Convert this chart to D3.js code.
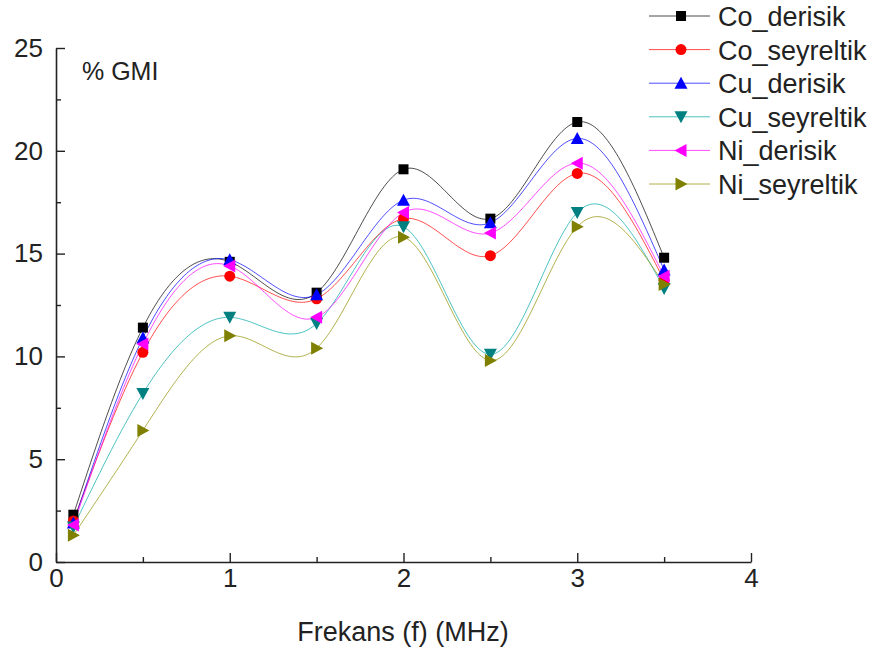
<!DOCTYPE html>
<html><head><meta charset="utf-8">
<script src="https://cdn.jsdelivr.net/npm/d3@7"></script>
<style>body{margin:0;background:#fff}svg{display:block}text{font-family:"Liberation Sans",Arial,sans-serif;fill:#222}</style>
</head><body><svg id="c" width="878" height="654"></svg>
<script>
const freq = [0.1, 0.5, 1, 1.5, 2, 2.5, 3, 3.5];
const seriesNames = ["Co_derisik","Co_seyreltik","Cu_derisik","Cu_seyreltik","Ni_derisik","Ni_seyreltik"];
const coDerisik   = [2.3, 11.4, 14.6, 13.1, 19.1, 16.7, 21.4, 14.8];
const coSeyreltik = [2.0, 10.2, 13.9, 12.8, 16.7, 14.9, 18.9, 13.7];
const cuDerisik   = [1.9, 10.9, 14.7, 13.0, 17.6, 16.5, 20.6, 14.2];
const cuSeyreltik = [1.7,  8.2, 11.9, 11.6, 16.3, 10.1, 17.0, 13.3];
const niDerisik   = [1.8, 10.6, 14.4, 11.9, 17.0, 16.0, 19.4, 13.9];
const niSeyreltik = [1.3,  6.4, 11.0, 10.4, 15.8,  9.8, 16.3, 13.5];
const xTicks = [0,1,2,3,4];
const yTicks = [0,5,10,15,20,25];
const yLabel = "% GMI";
const xLabel = "Frekans (f) (MHz)";

const values = [coDerisik, coSeyreltik, cuDerisik, cuSeyreltik, niDerisik, niSeyreltik];
const lineColors = ["#000000","#ff0000","#0000ff","#00a8a8","#ff00ff","#909000"];
const markColors = ["#000000","#ff0000","#0000ff","#008080","#ff00ff","#808000"];
const shapes = ["square","circle","up","down","left","right"];

const svg = d3.select("#c");
const x = d3.scaleLinear().domain([0,4]).range([56,751]);
const y = d3.scaleLinear().domain([0,25]).range([562,48]);

// natural cubic spline in data space
function spline(xs, ys){
  const n = xs.length, h=[], al=[], l=[1], mu=[0], z=[0], c=new Array(n).fill(0), b=[], d=[];
  for(let i=0;i<n-1;i++) h.push(xs[i+1]-xs[i]);
  for(let i=1;i<n-1;i++) al[i]=3/h[i]*(ys[i+1]-ys[i])-3/h[i-1]*(ys[i]-ys[i-1]);
  for(let i=1;i<n-1;i++){ l[i]=2*(xs[i+1]-xs[i-1])-h[i-1]*mu[i-1]; mu[i]=h[i]/l[i]; z[i]=(al[i]-h[i-1]*z[i-1])/l[i]; }
  l[n-1]=1; z[n-1]=0; c[n-1]=0;
  for(let j=n-2;j>=0;j--){ c[j]=z[j]-mu[j]*c[j+1]; b[j]=(ys[j+1]-ys[j])/h[j]-h[j]*(c[j+1]+2*c[j])/3; d[j]=(c[j+1]-c[j])/(3*h[j]); }
  const pts=[];
  for(let i=0;i<n-1;i++){
    const steps=40;
    for(let s=0;s<steps;s++){
      const t=h[i]*s/steps;
      pts.push([xs[i]+t, ys[i]+b[i]*t+c[i]*t*t+d[i]*t*t*t]);
    }
  }
  pts.push([xs[n-1], ys[n-1]]);
  return pts;
}

const line = d3.line().x(d=>x(d[0])).y(d=>y(d[1]));

function drawMarker(g, shape, cx, cy, color){
  if(shape==="square") g.append("rect").attr("x",cx-5).attr("y",cy-5).attr("width",10).attr("height",10).attr("fill",color);
  else if(shape==="circle") g.append("circle").attr("cx",cx).attr("cy",cy).attr("r",5.5).attr("fill",color);
  else {
    let p;
    const a=6.5, b=5.5;
    if(shape==="up") p=[[cx,cy-a],[cx-a,cy+b],[cx+a,cy+b]];
    if(shape==="down") p=[[cx,cy+a],[cx-a,cy-b],[cx+a,cy-b]];
    if(shape==="left") p=[[cx-a,cy],[cx+b,cy-a],[cx+b,cy+a]];
    if(shape==="right") p=[[cx+a,cy],[cx-b,cy-a],[cx-b,cy+a]];
    g.append("path").attr("d","M"+p.map(q=>q.join(",")).join("L")+"Z").attr("fill",color);
  }
}

values.forEach((vals,i)=>{
  svg.append("path").attr("d", line(spline(freq, vals)))
    .attr("fill","none").attr("stroke",lineColors[i]).attr("stroke-width",1).attr("stroke-opacity",0.7);
});
values.forEach((vals,i)=>{
  const g=svg.append("g");
  vals.forEach((v,j)=>drawMarker(g, shapes[i], x(freq[j]), y(v), markColors[i]));
});

const axisColor="#222";
const font="Liberation Sans, Arial, sans-serif";
const xAxis = svg.append("g").attr("transform","translate(0,562)")
  .call(d3.axisBottom(x).tickValues(d3.range(0,4.01,0.5)).tickSizeInner(-5).tickSizeOuter(0).tickFormat(""));
xAxis.selectAll(".tick line").attr("y2", d=>Number.isInteger(d)?-9:-5);
const xLab = svg.append("g").attr("transform","translate(0,562)")
  .call(d3.axisBottom(x).tickValues(xTicks).tickSize(0).tickPadding(7).tickFormat(d3.format("d")));
xLab.select(".domain").remove();
xLab.selectAll("text").attr("font-size",26).attr("fill","#222").style("font-family",font);

const yAxis = svg.append("g").attr("transform","translate(56,0)")
  .call(d3.axisLeft(y).tickValues(d3.range(0,25.01,2.5)).tickSizeInner(-5).tickSizeOuter(0).tickFormat(""));
yAxis.selectAll(".tick line").attr("x2", d=>Number.isInteger(d/5)?9:5);
const yLab = svg.append("g").attr("transform","translate(56,0)")
  .call(d3.axisLeft(y).tickValues(yTicks).tickSize(0).tickPadding(13).tickFormat(d3.format("d")));
yLab.select(".domain").remove();
yLab.selectAll("text").attr("font-size",26).attr("fill","#222").style("font-family",font);

[xAxis,yAxis].forEach(a=>{a.select(".domain").attr("stroke",axisColor).attr("stroke-width",1.6);a.selectAll(".tick line").attr("stroke",axisColor).attr("stroke-width",1.4);});

svg.append("text").attr("x",82).attr("y",80).attr("font-size",25).text(yLabel);
svg.append("text").attr("x",403).attr("y",641).attr("text-anchor","middle").attr("font-size",27).text(xLabel);

seriesNames.forEach((n,i)=>{
  const ly = 16 + i*33.6;
  const g = svg.append("g");
  g.append("line").attr("x1",649).attr("x2",710).attr("y1",ly).attr("y2",ly).attr("stroke",lineColors[i]).attr("stroke-width",1).attr("stroke-opacity",0.7);
  drawMarker(g, shapes[i], 681, ly, markColors[i]);
  g.append("text").attr("x",718).attr("y",ly+10).attr("font-size",27).text(n);
});
</script></body></html>
